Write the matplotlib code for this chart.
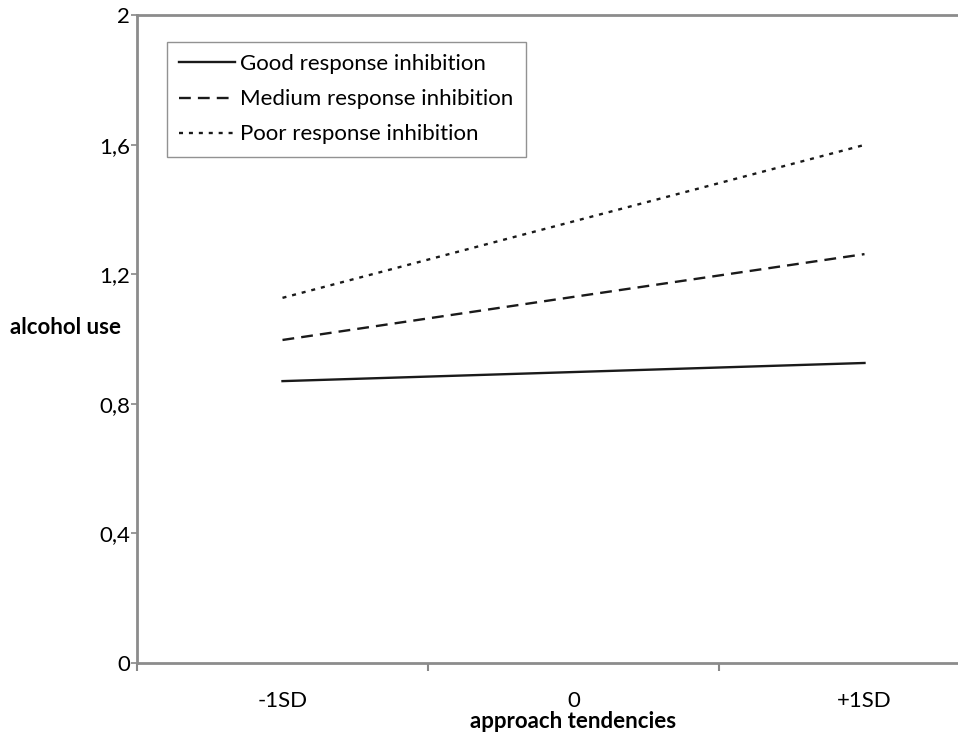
import matplotlib.pyplot as plt
import matplotlib.ticker as mticker

# data
categories = ['-1SD', '0', '+1SD']
good = [0.870, 0.898, 0.926]
medium = [0.997, 1.130, 1.262]
poor = [1.127, 1.363, 1.599]
yticks = [0, 0.4, 0.8, 1.2, 1.6, 2]

plt.rcParams['font.family'] = ['Lato', 'DejaVu Sans']

fig = plt.figure(figsize=(9.58, 7.36), dpi=100)
# axes run past the right edge, as in the cropped original
ax = fig.add_axes([137/958, 1 - 663/736, 873/958, 648/736])

x = [0.5, 1.5, 2.5]
ax.plot(x, good, color='#1a1a1a', lw=1.7, ls='-', label='Good response inhibition')
ax.plot(x, medium, color='#1a1a1a', lw=1.7, ls=(0, (5, 3)), label='Medium response inhibition')
ax.plot(x, poor, color='#1a1a1a', lw=1.7, ls=(0, (1.7, 2.5)), label='Poor response inhibition')

ax.set_xlim(0, 3)
ax.set_ylim(0, 2)
ax.set_yticks(yticks)
ax.yaxis.set_major_formatter(mticker.FuncFormatter(
    lambda v, p: ('%g' % v).replace('.', ',')))
ax.set_xticks([0, 1, 2, 3])
ax.set_xticklabels([])
ax.set_xticks(x, minor=True)
ax.set_xticklabels(categories, minor=True)
ax.tick_params(axis='x', which='minor', length=0, pad=20, labelsize=16)
ax.tick_params(axis='x', which='major', length=6, width=1.5, color='#888888')
ax.tick_params(axis='y', length=4, width=1.2, color='#888888', labelsize=16, pad=1)

for s in ['left', 'bottom', 'top']:
    ax.spines[s].set_color('#8c8c8c')
    ax.spines[s].set_linewidth(2)
ax.spines['right'].set_visible(False)

fig.text(10/958, 1 - 328/736, 'alcohol use', fontsize=16, fontweight='bold',
         va='center', ha='left')
fig.text(573/958, 1 - 722/736, 'approach tendencies', fontsize=16, fontweight='bold',
         va='center', ha='center')

leg = ax.legend(loc='upper left', bbox_to_anchor=(30/873, 1 - 27/648),
                frameon=True, fancybox=False, fontsize=16, handlelength=2.5,
                handletextpad=0.25, labelspacing=0.68, borderpad=0.55,
                borderaxespad=0)
leg.get_frame().set_edgecolor('#777777')
leg.get_frame().set_linewidth(1)

plt.savefig('out.png', dpi=100)
